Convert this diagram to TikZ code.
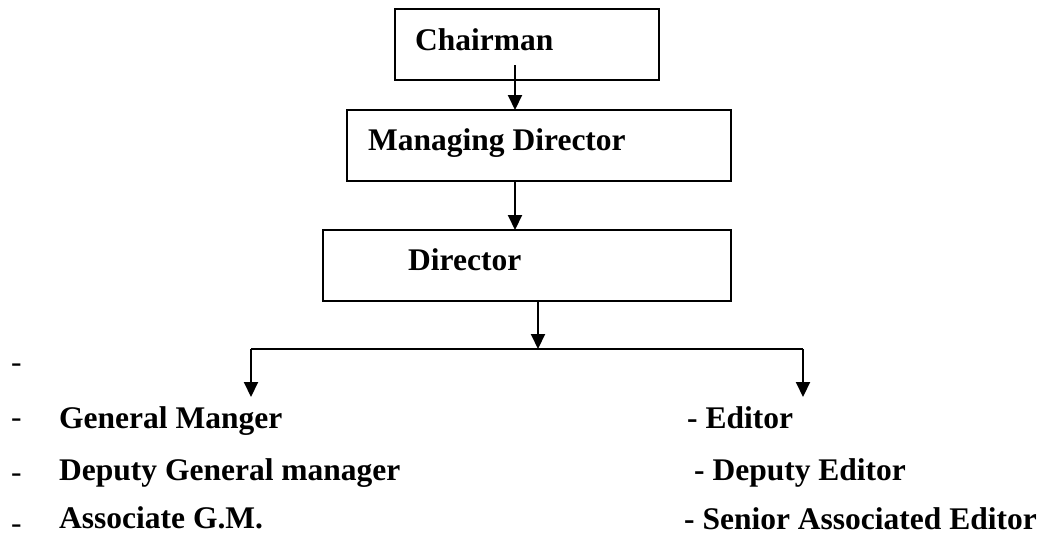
\documentclass[tikz,border=0pt]{standalone}
\usepackage{fontspec}
\setmainfont{Liberation Serif}
\usetikzlibrary{arrows.meta}
\begin{document}
\begin{tikzpicture}[x=1pt,y=-1pt,
  box/.style={draw,line width=2pt,inner sep=0,minimum width=#1},
  lbl/.style={anchor=base west,inner sep=0,font=\fontsize{31.5}{36}\selectfont\bfseries},
  dsh/.style={anchor=base west,inner sep=0,font=\fontsize{31.5}{36}\selectfont},
  arr/.style={line width=2pt,-{Triangle[length=15pt,width=14pt]}},
  ln/.style={line width=2pt}]
\useasboundingbox (0,0) rectangle (1046,542);
% boxes
\node[box=264pt,minimum height=71pt] (chair) at (527,44.5) {};
\node[box=384pt,minimum height=71pt] (md) at (539,145.5) {};
\node[box=408pt,minimum height=71pt] (dir) at (527,265.5) {};
% box labels
\node[lbl] (tchair) at (415,50) {Chairman};
\node[lbl] (tmd) at (368,150) {Managing Director};
\node[lbl] (tdir) at (408,270) {Director};
% connector points
\coordinate (c1) at (515,65);
\coordinate (c2) at (515,110);
\coordinate (c3) at (515,181);
\coordinate (c4) at (515,230);
\coordinate (d1) at (538,301);
\coordinate (d2) at (538,349);
\coordinate (hl) at (251,349);
\coordinate (hr) at (803,349);
\coordinate (al) at (251,397);
\coordinate (ar) at (803,397);
\draw[arr] (c1) -- (c2);
\draw[arr] (c3) -- (c4);
\draw[arr] (d1) -- (d2);
\draw[ln] (hl) -- (hr);
\draw[arr] (hl) -- (al);
\draw[arr] (hr) -- (ar);
% left column
\node[dsh] (dash0) at (11,372) {-};
\node[dsh] (dash1) at (11,427) {-};
\node[dsh] (dash2) at (11,482) {-};
\node[dsh] (dash3) at (11,533) {-};
\node[lbl] (gm) at (59,428) {General Manger};
\node[lbl] (dgm) at (59,480) {Deputy General manager};
\node[lbl] (agm) at (59,528) {Associate G.M.};
% right column
\node[lbl] (ed) at (687,428) {- Editor};
\node[lbl] (ded) at (694,480) {- Deputy Editor};
\node[lbl] (sae) at (684,529) {- Senior Associated Editor};
\end{tikzpicture}
\end{document}
